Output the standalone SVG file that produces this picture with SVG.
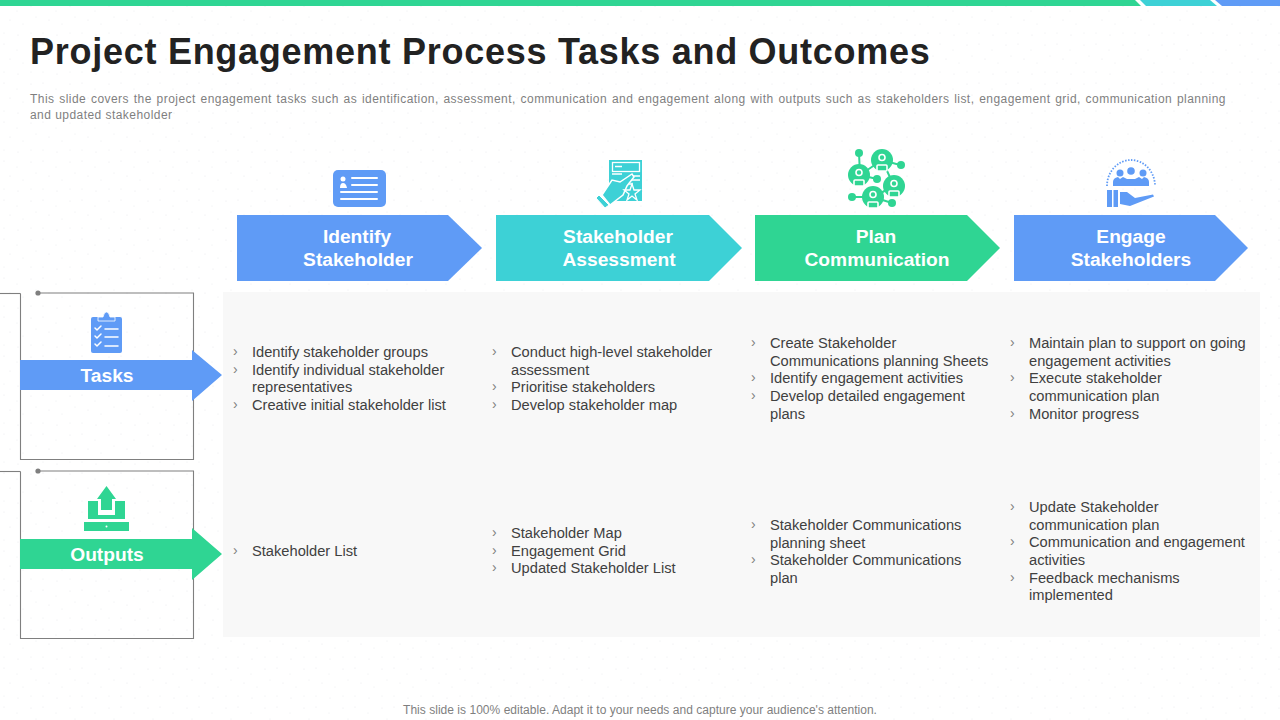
<svg xmlns="http://www.w3.org/2000/svg" width="1280" height="720" viewBox="0 0 1280 720">
<style>
text{font-family:"Liberation Sans",Arial,sans-serif}
.t{font-size:36px;font-weight:700;fill:#222222;letter-spacing:.73px}
.d{font-size:12px;fill:#7f7f7f;letter-spacing:.45px}
.h{font-size:19.2px;font-weight:700;fill:#fff;text-anchor:middle}
.b{font-size:14.67px;fill:#404040}
.c{font-size:14px;fill:#7f7f7f}
.l{fill:none;stroke:#7f7f7f;stroke-width:1.1}
.blue{fill:#5f9bf6}.teal{fill:#3dd1d6}.green{fill:#2fd593}
.wl{stroke:#fff;stroke-width:2;fill:none;stroke-linecap:round;stroke-linejoin:round}
.thin{stroke:#fff;stroke-width:1.3;fill:none}
.person{fill:#2fd593;stroke:#fff;stroke-width:1.6}
</style>
<defs>
<pattern id="dots" width="39" height="39" patternUnits="userSpaceOnUse">
<g fill="#e6e8ec"><circle cx="4" cy="5" r="0.6"/><circle cx="17" cy="11" r="0.5"/><circle cx="10" cy="20" r="0.6"/><circle cx="23" cy="24" r="0.5"/><circle cx="31" cy="6" r="0.6"/><circle cx="36" cy="17" r="0.5"/><circle cx="4" cy="33" r="0.5"/><circle cx="18" cy="35" r="0.6"/><circle cx="31" cy="33" r="0.5"/></g>
</pattern>
</defs>
<rect width="1280" height="720" fill="#fff"/>
<rect width="1280" height="720" fill="url(#dots)"/>
<g id="topbar">
<polygon class="green" points="0,0 1135,0 1141,6 0,6"/>
<polygon class="teal" points="1140,0 1210,0 1217,6 1146,6"/>
<polygon class="blue" points="1215,0 1280,0 1280,6 1222,6"/>
</g>
<text class="t" x="30" y="64">Project Engagement Process Tasks and Outcomes</text>
<text class="d" x="30" y="103" word-spacing="1">This slide covers the project engagement tasks such as identification, assessment, communication and engagement along with outputs such as stakeholders list, engagement grid, communication planning</text>
<text class="d" x="30" y="119">and updated stakeholder</text>
<rect id="panel" x="223" y="292" width="1037" height="345" fill="#f8f8f8"/>
<g id="connectors">
<path class="l" d="M0,293.500H20.500"/>
<path class="l" d="M38,293H193.500V459.500H20.500V293.500"/>
<circle cx="38" cy="293" r="2.600" fill="#7f7f7f"/>
<path class="l" d="M0,471.500H20.500"/>
<path class="l" d="M38,471H193.500V638.500H20.500V471.500"/>
<circle cx="38" cy="471" r="2.600" fill="#7f7f7f"/>
</g>
<g id="identify">
<polygon class="blue" points="237,215 448,215 482,248 448,281 237,281"/>
<text class="h"><tspan x="357" y="243">Identify</tspan><tspan x="358" y="266">Stakeholder</tspan></text>
<rect class="blue" x="333" y="170" width="53" height="37" rx="5"/>
<circle cx="343" cy="179" r="2.500" fill="#fff"/><path d="M340,188q0-5 3-5t4,5z" fill="#fff"/>
<path class="wl" d="M352,178H377M352,185H377M341,192H377M341,199H377"/>
</g>
<g id="assessment">
<polygon class="teal" points="496,215 709,215 742,248 709,281 496,281"/>
<text class="h"><tspan x="618" y="243">Stakeholder</tspan><tspan x="619" y="266">Assessment</tspan></text>
<rect class="teal" x="609" y="160" width="33" height="41"/>
<rect class="thin" x="612.500" y="162.500" width="27" height="9"/>
<path class="thin" d="M615,166.500H622M612,174H622M633,176H640M631,180H640M629,184H633"/>
<polygon class="teal" points="602,195 612,180 620,182 632,174 634,177 627,186 623,195 610,205" stroke="#fff" stroke-width="1.500"/>
<polygon class="teal" points="596,198 599,195 609,205 605,208" stroke="#fff"/>
<polygon points="632,184 634,190 640,190 635,194 637,200 632,196 627,200 629,194 624,190 630,190" fill="#3dd1d6" stroke="#fff" stroke-width="1.300"/>
</g>
<g id="plan">
<polygon class="green" points="755,215 967,215 1000,248 967,281 755,281"/>
<text class="h"><tspan x="876" y="243">Plan</tspan><tspan x="877" y="266">Communication</tspan></text>
<path d="M859,153L860,175M860,175L882,160L900,165M860,175L877,179M882,160L894,186M873,197L894,186M852,197L873,197L892,203" fill="none" stroke="#2fd593" stroke-width="2"/>
<circle class="green" cx="859" cy="153" r="4"/><circle class="green" cx="901" cy="165" r="4"/><circle class="green" cx="877" cy="179" r="4"/><circle class="green" cx="852" cy="197" r="4"/><circle class="green" cx="892" cy="203" r="4"/>
<circle class="green" cx="882" cy="160" r="11"/><circle class="green" cx="859" cy="175" r="11"/><circle class="green" cx="894" cy="186" r="11"/><circle class="green" cx="873" cy="197" r="11"/>
<g class="person"><circle cx="882" cy="157.500" r="3"/><rect x="877" y="165" width="10" height="6" rx="1"/><circle cx="859" cy="172.500" r="3"/><rect x="854" y="180" width="10" height="6" rx="1"/><circle cx="894" cy="183.500" r="3"/><rect x="889" y="191" width="10" height="6" rx="1"/><circle cx="873" cy="194.500" r="3"/><rect x="868" y="202" width="10" height="6" rx="1"/></g>
</g>
<g id="engage">
<polygon class="blue" points="1014,215 1215,215 1248,248 1215,281 1014,281"/>
<text class="h"><tspan x="1131" y="243">Engage</tspan><tspan x="1131" y="266">Stakeholders</tspan></text>
<path d="M1107,186A24,26 0 1 1 1155,186" fill="none" stroke="#5f9bf6" stroke-width="1.800" stroke-dasharray="1.500 1.500"/>
<circle class="blue" cx="1131" cy="171" r="3.800"/><circle class="blue" cx="1120" cy="173" r="3.500"/><circle class="blue" cx="1143" cy="173" r="3.500"/>
<path class="blue" d="M1113,186v-4q0-4 5-5l2,2 3-2 4,2h8l4-2 3,2 2-2q5,1 5,5v4z"/>
<rect class="blue" x="1107" y="190" width="5" height="17"/><rect class="blue" x="1113.500" y="190" width="4.500" height="17"/>
<path class="blue" d="M1120,192L1127,192L1135,198L1153,194.500L1154,196.500L1130,206L1120,204z"/>
</g>
<g id="tasks">
<polygon class="blue" points="20,360 192,360 192,350 222,375 192,401 192,390 20,390"/>
<text class="h" x="107" y="382">Tasks</text>
<rect class="blue" x="91" y="317" width="31" height="36" rx="2"/>
<path class="blue" d="M98,321v-4h5q1-5 3.500-5t3.500,5h5v4z" stroke="#fff" stroke-width=".8"/>
<path class="wl" stroke-width="1.500" style="stroke-width:1.500" d="M95,328l2,2 4-4M95,336l2,2 4-4M95,344l2,2 4-4M105,329H118M105,337H118M105,346H118"/>
</g>
<g id="outputs">
<polygon class="green" points="20,539 192,539 192,528 222,554 192,580 192,569 20,569"/>
<text class="h" x="107" y="561">Outputs</text>
<rect class="green" x="88" y="501" width="37" height="18"/>
<rect x="98" y="499" width="17" height="16" fill="#fff"/>
<path class="green" d="M101,510V499H97L106.500,486L116,499H112V510z"/>
<rect class="green" x="84" y="522" width="45" height="9"/>
<circle cx="106.500" cy="526.500" r="1" fill="#fff"/>
</g>
<g id="cell-tasks-1">
<text class="c" x="233" y="356">›</text><text class="b" x="252" y="357">Identify stakeholder groups</text>
<text class="c" x="233" y="374">›</text><text class="b" x="252" y="375">Identify individual stakeholder</text>
<text class="b" x="252" y="392">representatives</text>
<text class="c" x="233" y="409">›</text><text class="b" x="252" y="410">Creative initial stakeholder list</text>
</g>
<g id="cell-tasks-2">
<text class="c" x="492" y="356">›</text><text class="b" x="511" y="357">Conduct high-level stakeholder</text>
<text class="b" x="511" y="375">assessment</text>
<text class="c" x="492" y="391">›</text><text class="b" x="511" y="392">Prioritise stakeholders</text>
<text class="c" x="492" y="409">›</text><text class="b" x="511" y="410">Develop stakeholder map</text>
</g>
<g id="cell-tasks-3">
<text class="c" x="751" y="347">›</text><text class="b" x="770" y="348">Create Stakeholder</text>
<text class="b" x="770" y="366">Communications planning Sheets</text>
<text class="c" x="751" y="382">›</text><text class="b" x="770" y="383">Identify engagement activities</text>
<text class="c" x="751" y="400">›</text><text class="b" x="770" y="401">Develop detailed engagement</text>
<text class="b" x="770" y="419">plans</text>
</g>
<g id="cell-tasks-4">
<text class="c" x="1010" y="347">›</text><text class="b" x="1029" y="348">Maintain plan to support on going</text>
<text class="b" x="1029" y="366">engagement activities</text>
<text class="c" x="1010" y="382">›</text><text class="b" x="1029" y="383">Execute stakeholder</text>
<text class="b" x="1029" y="401">communication plan</text>
<text class="c" x="1010" y="418">›</text><text class="b" x="1029" y="419">Monitor progress</text>
</g>
<g id="cell-outputs-1">
<text class="c" x="233" y="555">›</text><text class="b" x="252" y="556">Stakeholder List</text>
</g>
<g id="cell-outputs-2">
<text class="c" x="492" y="537">›</text><text class="b" x="511" y="538">Stakeholder Map</text>
<text class="c" x="492" y="555">›</text><text class="b" x="511" y="556">Engagement Grid</text>
<text class="c" x="492" y="572">›</text><text class="b" x="511" y="573">Updated Stakeholder List</text>
</g>
<g id="cell-outputs-3">
<text class="c" x="751" y="529">›</text><text class="b" x="770" y="530">Stakeholder Communications</text>
<text class="b" x="770" y="548">planning sheet</text>
<text class="c" x="751" y="564">›</text><text class="b" x="770" y="565">Stakeholder Communications</text>
<text class="b" x="770" y="583">plan</text>
</g>
<g id="cell-outputs-4">
<text class="c" x="1010" y="511">›</text><text class="b" x="1029" y="512">Update Stakeholder</text>
<text class="b" x="1029" y="530">communication plan</text>
<text class="c" x="1010" y="546">›</text><text class="b" x="1029" y="547">Communication and engagement</text>
<text class="b" x="1029" y="565">activities</text>
<text class="c" x="1010" y="582">›</text><text class="b" x="1029" y="583">Feedback mechanisms</text>
<text class="b" x="1029" y="600">implemented</text>
</g>
<text x="640" y="714" font-size="12" fill="#7f7f7f" text-anchor="middle" letter-spacing=".03">This slide is 100% editable. Adapt it to your needs and capture your audience's attention.</text>
</svg>
